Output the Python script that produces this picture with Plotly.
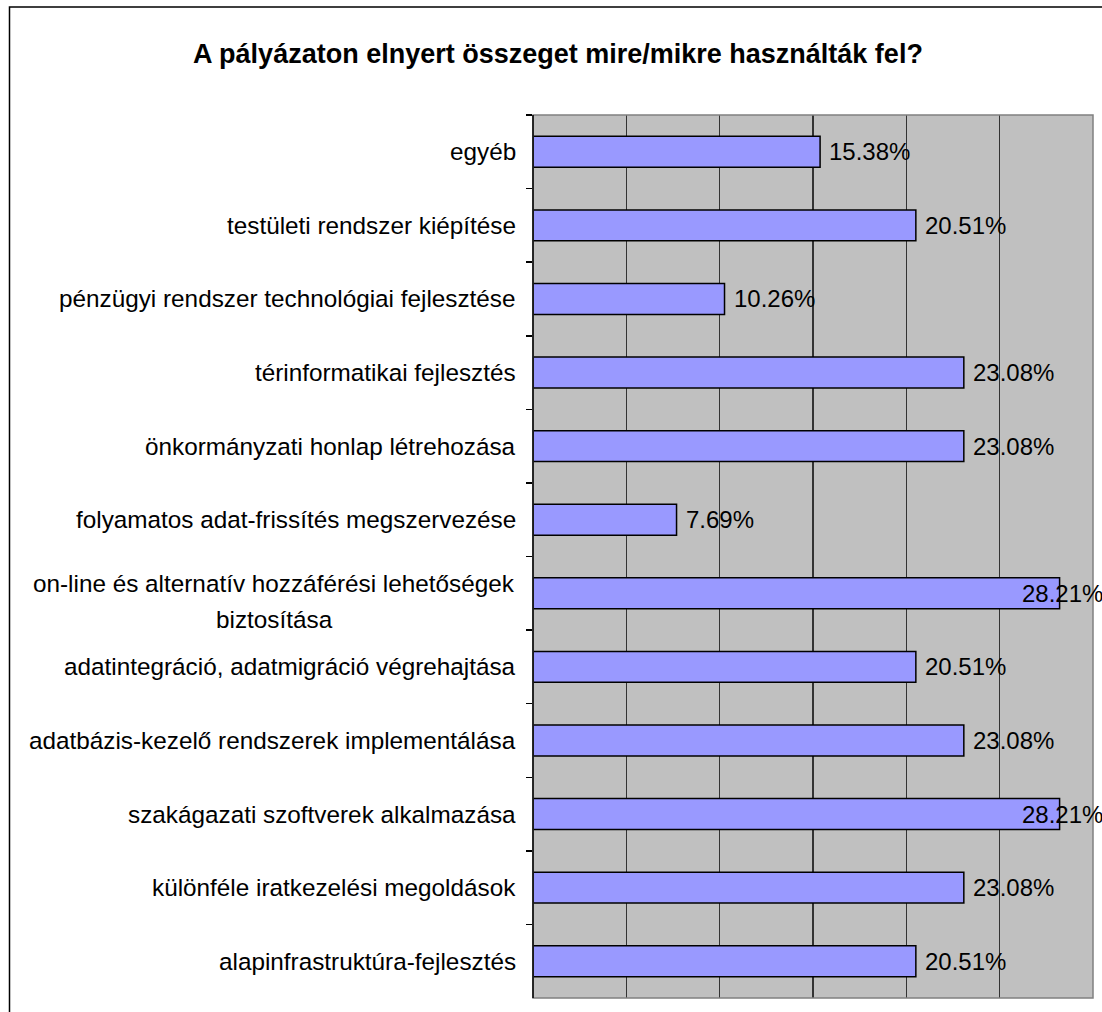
import plotly.graph_objects as go

categories = [
    "egyéb",
    "testületi rendszer kiépítése",
    "pénzügyi rendszer technológiai fejlesztése",
    "térinformatikai fejlesztés",
    "önkormányzati honlap létrehozása",
    "folyamatos adat-frissítés megszervezése",
    "on-line és alternatív hozzáférési lehetőségek<br>biztosítása",
    "adatintegráció, adatmigráció végrehajtása",
    "adatbázis-kezelő rendszerek implementálása",
    "szakágazati szoftverek alkalmazása",
    "különféle iratkezelési megoldások",
    "alapinfrastruktúra-fejlesztés",
]
values = [0.1538, 0.2051, 0.1026, 0.2308, 0.2308, 0.0769,
          0.2821, 0.2051, 0.2308, 0.2821, 0.2308, 0.2051]
title_text = "A pályázaton elnyert összeget mire/mikre használták fel?"

W, H = 1102, 1012
L, R, T, B = 533, 1093, 115, 998
FONT = "Liberation Sans, Arial, sans-serif"

fig = go.Figure()
fig.add_trace(go.Bar(
    y=categories, x=values, orientation="h",
    marker=dict(color="#9999FF", line=dict(color="black", width=1.5)),
    hoverinfo="skip",
))

annotations = []
for c in categories:
    lines = c.split("<br>")
    n = len(lines)
    if n == 1:
        annotations.append(dict(
            x=(518 - L) / (R - L), xref="paper", y=c, yref="y",
            text=c, showarrow=False, xanchor="right", yanchor="middle",
            font=dict(family=FONT, size=24.3, color="black"),
        ))
    else:
        for k, ln in enumerate(lines):
            annotations.append(dict(
                x=(274 - L) / (R - L), xref="paper", y=c, yref="y",
                text=ln, showarrow=False, xanchor="center", yanchor="middle",
                yshift=-((k - (n - 1) / 2) * 36 + 8),
                font=dict(family=FONT, size=24.3, color="black"),
            ))
for c, v in zip(categories, values):
    annotations.append(dict(
        x=v, xref="x", y=c, yref="y",
        text=f"{v*100:.2f}%", showarrow=False, xanchor="left", yanchor="middle",
        xshift=7 if v < 0.27 else -40,
        font=dict(family=FONT, size=24, color="black"),
    ))

pw, ph = R - L, B - T
shapes = [
    dict(type="rect", xref="paper", yref="paper", x0=0, x1=1, y0=0, y1=1,
         line=dict(color="#808080", width=1.5), layer="above"),
    dict(type="line", xref="paper", yref="paper", x0=0, x1=0, y0=0, y1=1,
         line=dict(color="black", width=1.5), layer="above"),
    dict(type="rect", xref="paper", yref="paper",
         x0=(9.5 - L) / pw, x1=(1110 - L) / pw,
         y0=(B - 1020) / ph, y1=(B - 7) / ph,
         line=dict(color="black", width=1.5), layer="above"),
]

fig.update_layout(
    width=W, height=H,
    margin=dict(l=L, r=W - R, t=T, b=H - B, pad=0),
    paper_bgcolor="white", plot_bgcolor="#C0C0C0",
    showlegend=False, bargap=0.58,
    title=dict(text=f"<b>{title_text}</b>", xref="container", yref="container",
               x=558 / W, y=1 - 54 / H, xanchor="center", yanchor="middle",
               font=dict(family=FONT, size=27, color="black")),
    font=dict(family=FONT, size=24, color="black"),
    xaxis=dict(range=[0, 0.30], dtick=0.05, showgrid=True, gridcolor="#333333",
               gridwidth=1.2, showticklabels=False, ticks="", zeroline=False,
               showline=False, fixedrange=True),
    yaxis=dict(type="category", autorange="reversed", showticklabels=False,
               ticks="outside", ticklen=6, tickcolor="black", tickwidth=1.5,
               tickson="boundaries", showgrid=False, zeroline=False,
               showline=False, fixedrange=True),
    annotations=annotations, shapes=shapes,
)

fig.write_html("out.html",
               config={"displayModeBar": False, "staticPlot": True},
               post_script="document.body.style.margin='0';document.body.style.overflow='hidden';")
